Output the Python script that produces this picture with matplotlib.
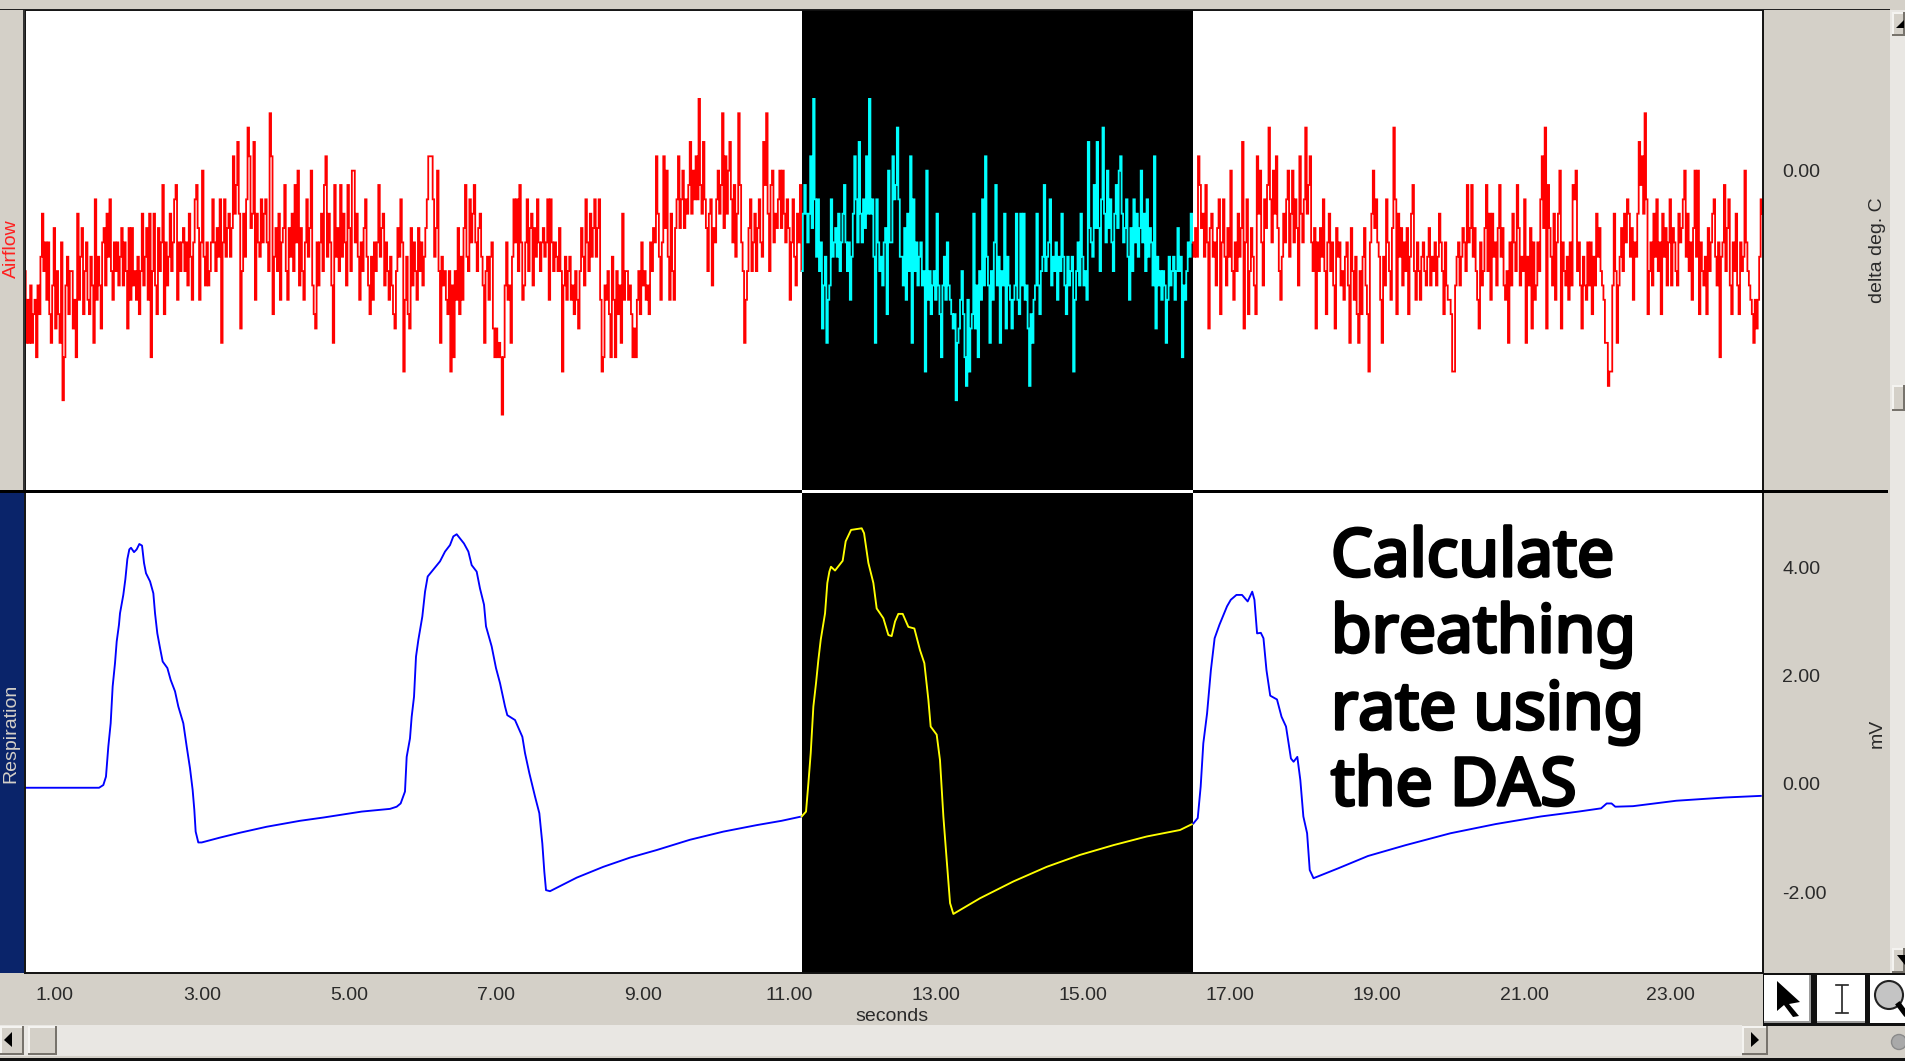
import numpy as np
import matplotlib
matplotlib.use("Agg")
import matplotlib.pyplot as plt
import matplotlib.patheffects as pe
from matplotlib.patches import Rectangle, Polygon, Circle

W, H = 1905, 1063
GRAY = "#d4d0c8"
NAVY = "#0a246a"
HATCH = "#e9e7e3"

# ---- data ----
sample_rate_hz = 50.0
time_start_s = 0.5916
time_end_s = 24.254
selection_s = (11.17, 16.49)
x_ticks = [1, 3, 5, 7, 9, 11, 13, 15, 17, 19, 21, 23]
airflow_ticks = [0.0]
resp_ticks = [4.0, 2.0, 0.0, -2.0]
airflow_unit = 0.01  # deg C per ADC count

airflow_counts = [
 -7,-12,-9,-12,-8,-12,-10,-9,-13,-8,  -10,-6,-3,-7,-5,-9,-5,-10,-12,-8,
 -4,-11,-7,-10,-12,-5,-16,-13,-8,-6,  -10,-7,-7,-11,-9,-13,-3,-9,-6,-4,
 -10,-7,-5,-9,-10,-6,-8,-12,-2,-9,  -6,-8,-11,-5,-4,-8,-3,-6,-2,-7,
 -9,-5,-7,-5,-8,-6,-4,-8,-5,-7,  -11,-4,-9,-4,-8,-7,-9,-6,-10,-7,
 -3,-8,-6,-4,-9,-3,-13,-7,-3,-8,  -10,-4,-7,-5,-1,-10,-5,-8,-6,-3,
 -7,-5,-2,-1,-9,-5,-7,-5,-4,-7,  -5,-8,-3,-6,-9,-5,-2,-1,-4,-9,
 -5,0,-6,-8,-5,-8,-7,-5,-2,-5,  -7,-4,-6,-2,-12,-5,-2,-6,-4,-3,
 -6,-4,1,-3,-1,2,-3,-11,-7,-3,  -6,-2,3,1,-4,-3,2,-9,-3,-5,
 -6,-2,-5,-3,-2,-5,-7,4,1,-10,  -6,-4,-7,-3,-9,-5,-4,-1,-7,-9,
 -4,-6,-3,-7,-1,-5,0,-8,-4,-7,  -9,-5,-2,-6,-4,0,-8,-10,-11,-5,
 -8,-5,-3,-7,-1,1,-6,-3,-5,-8,  -12,-1,-6,-4,-7,-1,-6,-3,-5,-8,
 -1,-4,-7,0,0,-5,-3,-6,-9,-5,  -7,-4,-2,-6,-8,-10,-6,-9,-5,-7,
 -5,-1,-6,-4,-3,-8,-5,-7,-9,-6,  -8,-10,-11,-7,-4,-6,-2,-5,-14,-9,
 -6,-10,-11,-4,-8,-5,-7,-9,-4,-7,  -5,-8,-6,-4,-2,1,1,1,-2,-6,
 -4,0,-7,-12,-6,-8,-7,-9,-10,-7,  -14,-8,-13,-7,-9,-4,-10,-6,-9,-4,
 -1,-6,-7,-2,-5,-3,-1,-5,-7,-4,  -3,-6,-8,-12,-7,-6,-9,-6,-5,-11,
 -13,-11,-13,-12,-13,-17,-13,-8,-5,-9,  -8,-12,-6,-2,-5,-2,-7,-1,-5,-9,
 -8,-5,-2,-7,-4,-3,-8,-4,-6,-2,  -5,-7,-5,-4,-6,-5,-2,-9,-2,-5,
 -7,-5,-6,-7,-4,-7,-14,-8,-6,-9,  -7,-6,-9,-8,-10,-7,-9,-11,-7,-4,
 -6,-8,-2,-5,-7,-3,-6,-4,-2,-6,  -4,-2,-9,-14,-13,-8,-9,-7,-10,-13,
 -6,-9,-13,-7,-10,-8,-12,-3,-9,-7,  -7,-9,-8,-10,-13,-11,-13,-9,-7,-10,
 -5,-8,-7,-9,-8,-10,-5,-7,-4,-5,  1,-3,-6,-9,-5,1,-4,0,-6,-9,
 -3,-7,-9,-4,-2,1,-4,-2,0,-4,  -2,-3,-1,2,-3,0,-2,1,-2,5,
 -1,-3,2,-2,-4,-7,-3,-2,-8,-4,  -5,-2,0,-3,-1,4,-4,1,-3,0,
 2,-2,-5,-1,-6,-3,4,-1,-5,-7,  -12,-9,-7,-4,-2,-7,-5,-3,-7,-4,
 -2,-5,-6,2,-1,4,-3,-7,-1,0,  -5,-3,-4,-2,0,-4,0,-3,-5,-2,
 -4,-9,-5,-2,-6,-8,-3,-5,-1,-7,
 -3,-1,-3,-5,-3,1,-4,5,-2,-6,  -2,-7,-5,-11,-8,-6,-12,-9,-8,-2,
 -6,-5,-4,-6,-3,-7,-5,-3,-1,-5,  -7,-5,-9,-6,-3,1,-2,-5,2,-3,
 -5,-2,-4,1,-3,5,-3,-2,-6,-12,  -2,-5,-7,-6,-8,-5,-4,-10,0,-5,
 -5,1,-2,-1,3,-2,-6,-6,-8,-4,  -9,-3,-7,1,-12,-2,-7,-5,-8,-6,
 -5,-8,-7,-14,0,-9,-7,-10,-8,-7,  -9,-3,-8,-10,-13,-8,-6,-9,-5,-8,
 -9,-10,-11,-10,-16,-12,-11,-9,-7,-10,  -13,-15,-9,-14,-11,-10,-3,-11,-8,-13,
 -7,-9,-2,-8,1,-6,-8,-12,-7,-9,  -5,-1,-8,-6,-12,-7,-8,-3,-11,-6,
 -8,-9,-11,-9,-8,-3,-9,-10,-3,-8,  -3,-9,-8,-11,-15,-10,-12,-9,-8,-3,
 -8,-10,-7,-6,-1,-7,-6,-5,-2,-8,  -6,-7,-5,-9,-6,-7,-3,-6,-8,-10,
 -6,-8,-7,-6,-14,-9,-7,-5,-8,-3,  -6,-8,-7,-9,2,-4,-5,-6,-1,-4,
 2,-4,-7,-2,3,-3,-5,0,-4,-2,  -5,-7,-3,-1,-4,0,1,-3,-5,-4,
 -2,-6,-9,-4,-7,-2,-5,-3,-6,-4,  0,-5,-3,-7,-2,-6,-4,-5,-8,1,
 -11,-6,-8,-7,-9,-7,-8,-12,-9,-6,  -8,-7,-6,-9,-7,-4,-7,-6,-13,-8,
 -9,-7,-5,-6,-3,-5,-6,-4,-6,1,
 -1,-4,-3,-6,-1,-5,-11,-4,-3,-6,  -5,-8,-4,-2,-10,-5,-2,-6,-8,-4,
 -6,0,-7,-9,-5,-7,-3,-6,-4,2,  -11,-5,-2,-10,-7,-4,-6,-8,-10,1,
 -3,0,-5,-8,-2,-4,-1,3,-2,-5,  0,-3,1,-4,-7,-9,-6,-3,-5,-2,
 0,-6,-3,0,-5,-2,-4,-8,1,-3,  -5,-2,3,-3,-1,1,-5,-7,-4,-11,
 -5,-7,-4,-6,-2,-7,-10,-5,-3,-7,  -5,-8,-11,-4,-6,-5,-8,-7,-9,-6,
 -5,-8,-12,-4,-7,-9,-6,-10,-12,-7,  -10,-6,-4,-8,-10,-14,-5,-3,0,-4,
 -2,-5,-6,-9,-12,-6,-8,-2,-5,-7,  -9,-4,3,-2,-10,-3,-6,-4,-8,-5,
 -7,-4,-10,-6,-3,-1,-7,-9,-5,-7,  -9,-6,-5,-7,-8,-6,-4,-8,-6,-7,
 -5,-8,-6,-3,-5,-7,-10,-5,-8,-9,  -9,-10,-14,-14,-8,-6,-5,-8,-6,-4,
 -5,-7,-1,-5,-4,-1,-6,-4,-7,-9,  -11,-5,-8,-7,-4,-1,-7,-3,-9,-3,
 -6,-5,-8,-4,-1,-6,-4,-8,-9,-7,  -12,-5,-8,-3,-5,-7,-1,-4,-8,-6,
 -7,-2,-12,-6,-8,-4,-11,-5,-9,-8,  -5,-7,-2,1,-4,3,-11,-1,-4,-6,
 -8,-3,-9,-5,-3,0,-11,-5,-7,-8,  -6,-9,-5,-8,-1,-2,0,-7,-5,-8,
 -11,-6,-8,-9,-5,-8,-5,-10,-6,-8,  -3,-6,-4,-7,-8,-9,-12,-12,-15,-14,
 -14,-8,-3,-7,-12,-8,-6,-4,-7,-3,  -5,-2,-3,-6,-4,-9,-5,-6,-3,2,
 -1,1,-3,4,-2,-10,-7,-5,-8,-3,  -6,-2,-7,-5,-10,-3,-6,-4,-8,-5,
 -2,-8,-4,-5,-7,-8,-3,-5,-4,-2,  0,-6,-3,-7,-5,-9,-4,0,-6,0,
 -10,-5,-7,-8,-6,-10,-4,-7,-5,-3,  -2,-6,-8,-5,-13,-6,-5,-1,-7,-4,
 -2,-8,-10,-5,-7,-3,-8,-10,-5,-7,  -6,0,-5,-7,-8,-9,-10,-12,-9,-11,
 -9,-6,-2,-3,
]

resp_t = [
 0.59,1.60,1.658,1.694,1.726,1.758,1.785,1.817,1.84,1.871,1.885,1.93,1.958,1.985,2.012,2.035,2.076,2.112,2.148,2.185,
 2.212,2.239,2.294,2.339,2.362,2.393,2.43,2.466,2.53,2.575,2.634,2.679,2.747,2.793,2.838,2.874,2.897,2.915,2.951,2.997,
 3.247,3.519,3.882,4.336,4.653,5.175,5.561,5.652,5.706,5.765,5.788,5.833,5.856,5.888,5.915,5.947,6.001,6.038,6.074,6.128,
 6.242,6.31,6.378,6.423,6.469,6.568,6.628,6.673,6.741,6.786,6.841,6.868,6.945,7.004,7.059,7.127,7.158,7.263,7.363,7.399,
 7.458,7.535,7.594,7.635,7.662,7.685,7.739,8.102,8.465,8.828,9.192,9.645,10.099,10.553,10.893,11.166,
 11.225,11.257,11.289,11.325,11.361,11.393,11.425,11.484,11.515,11.543,11.565,11.62,11.724,11.765,11.838,11.983,12.015,12.074,12.142,12.187,
 12.278,12.346,12.391,12.437,12.482,12.541,12.618,12.70,12.777,12.836,12.891,12.922,13.004,13.049,13.095,13.14,13.186,13.231,13.594,14.048,
 14.502,14.955,15.409,15.863,16.317,16.498,
 16.558,16.598,16.634,16.685,16.737,16.788,16.854,16.957,17.008,17.085,17.161,17.238,17.30,17.33,17.366,17.417,17.453,17.494,17.545,17.637,
 17.699,17.76,17.827,17.863,17.914,17.955,17.996,18.047,18.083,18.134,18.466,18.876,19.388,20.0,20.616,21.23,21.742,22.05,22.126,22.192,
 22.243,22.484,23.072,23.738,24.224,
]
resp_mv = [
 -0.07,-0.07,-0.02,0.135,0.69,1.12,1.80,2.23,2.63,2.94,3.15,3.49,3.78,4.15,4.33,4.36,4.28,4.33,4.43,4.40,
 4.08,3.89,3.74,3.52,3.15,2.78,2.51,2.26,2.14,1.92,1.71,1.43,1.12,0.69,0.29,-0.11,-0.48,-0.88,-1.08,-1.08,
 -0.99,-0.90,-0.79,-0.68,-0.62,-0.51,-0.46,-0.42,-0.36,-0.14,0.50,0.84,1.24,1.61,2.35,2.66,3.09,3.55,3.83,3.92,
 4.11,4.29,4.41,4.57,4.61,4.44,4.29,4.04,3.92,3.61,3.31,2.91,2.54,2.14,1.86,1.43,1.27,1.18,0.87,0.57,
 0.20,-0.23,-0.54,-1.10,-1.62,-1.96,-1.98,-1.73,-1.53,-1.36,-1.22,-1.03,-0.88,-0.76,-0.68,-0.60,
 -0.51,0.01,0.57,1.43,1.86,2.29,2.66,3.15,3.71,3.92,4.01,3.94,4.12,4.48,4.69,4.72,4.63,4.08,3.71,3.24,
 3.06,2.75,2.73,3.00,3.14,3.14,2.90,2.87,2.47,2.23,1.55,1.06,0.91,0.44,-0.60,-1.40,-2.20,-2.40,-2.11,-1.80,
 -1.53,-1.31,-1.13,-0.97,-0.85,-0.73,
 -0.63,-0.05,0.75,1.30,2.10,2.69,2.94,3.28,3.40,3.49,3.49,3.37,3.55,3.40,2.78,2.79,2.69,2.10,1.63,1.56,
 1.24,1.06,0.47,0.41,0.50,0.07,-0.60,-0.91,-1.59,-1.74,-1.56,-1.33,-1.13,-0.91,-0.74,-0.60,-0.51,-0.45,-0.36,-0.36,
 -0.42,-0.41,-0.31,-0.25,-0.22,
]
headline = ["Calculate", "breathing", "rate using", "the DAS"]

# ---- figure ----
plt.rcParams["font.family"] = ["Liberation Sans", "DejaVu Sans"]
fig = plt.figure(figsize=(W / 100, H / 100), dpi=100, facecolor=GRAY)


def panel(x0, y0, x1, y1):
    return fig.add_axes([x0 / W, 1 - y1 / H, (x1 - x0) / W, (y1 - y0) / H])


ax_air = panel(25, 9.5, 1763, 490.5)
ax_res = panel(25, 492, 1763, 973)
TXT = "#2a2a2a"
for ax in (ax_air, ax_res):
    ax.set_xlim(time_start_s, time_end_s)
    ax.axvspan(*selection_s, color="black", lw=0, zorder=1)
    ax.yaxis.tick_right()
    ax.tick_params(length=0, labelsize=14, labelcolor=TXT, pad=14)
    for s in ax.spines.values():
        s.set_linewidth(1.4)
        s.set_color("#111111")
    ax.yaxis.set_label_position("right")

air_t = time_start_s + np.arange(len(airflow_counts)) / sample_rate_hz
air_v = np.array(airflow_counts) * airflow_unit
res_t = np.array(resp_t)
res_v = np.array(resp_mv)
in_sel = (air_t >= selection_s[0] - 0.01) & (air_t <= selection_s[1] + 0.01)
i0, i1 = np.where(in_sel)[0][[0, -1]]
for a, b, c in [(None, i0 + 1, "#ff0000"), (i0, i1 + 1, "#00ffff"), (i1, None, "#ff0000")]:
    line, = ax_air.plot(air_t[a:b], air_v[a:b], color=c, lw=1.3, drawstyle="steps-mid",
                        solid_joinstyle="miter", zorder=2)
    line.set_snap(False)
ax_air.set_ylim(-0.2229, 0.1123)
ax_air.set_yticks(airflow_ticks)
ax_air.set_yticklabels([f"{v:.2f}" for v in airflow_ticks])
ax_air.set_xticks([])
ax_air.set_ylabel("delta deg. C", fontsize=14, color=TXT, rotation=90)
ax_air.yaxis.set_label_coords((1869 - 25) / 1738, (490.5 - 250) / 481)

j0 = np.where(res_t >= 11.16)[0][0]
j1 = np.where(res_t <= 16.50)[0][-1]
ax_res.plot(res_t[:j0 + 1], res_v[:j0 + 1], color="#0000ff", lw=1.35, zorder=2)
ax_res.plot(res_t[j0:j1 + 1], res_v[j0:j1 + 1], color="#ffff00", lw=1.35, zorder=2)
ax_res.plot(res_t[j1:], res_v[j1:], color="#0000ff", lw=1.35, zorder=2)
ax_res.set_ylim(-3.49, 5.39)
ax_res.set_yticks(resp_ticks)
ax_res.set_yticklabels([f"{v:.2f}" for v in resp_ticks])
ax_res.set_xticks(x_ticks)
ax_res.set_xticklabels([f"{v:.2f}" for v in x_ticks])
ax_res.tick_params(axis="x", pad=10)
ax_res.set_xlabel("seconds", fontsize=14, color=TXT)
ax_res.xaxis.set_label_coords((892 - 25) / 1738, -(1008 - 973) / 481)
ax_res.set_ylabel("mV", fontsize=14, color=TXT, rotation=90)
ax_res.yaxis.set_label_coords((1869 - 25) / 1738, (973 - 733) / 481)

# ---- window chrome in pixel coordinates ----
ui = fig.add_axes([0, 0, 1, 1], zorder=10)
ui.set_xlim(0, W)
ui.set_ylim(H, 0)
ui.axis("off")
ui.patch.set_alpha(0)


def rect(x0, y0, x1, y1, c, z=1):
    ui.add_patch(Rectangle((x0, y0), x1 - x0, y1 - y0, facecolor=c, edgecolor="none", zorder=z))


def button(x0, y0, x1, y1, face=GRAY):
    rect(x0, y0, x1, y1, face)
    rect(x0, y0, x1, y0 + 1.5, "#f4f3f0", 2)
    rect(x0, y0, x0 + 1.5, y1, "#f4f3f0", 2)
    rect(x0, y1 - 2, x1, y1, "#77736c", 2)
    rect(x1 - 2, y0, x1, y1, "#77736c", 2)


# left channel strips
rect(0, 0, 24, 490, GRAY)
rect(0, 493, 24, 973, NAVY)
rect(23, 9, 25, 491, "#333333")
ui.text(11, 249, "Airflow", color="#ff2020", rotation=90, fontsize=14, ha="center", va="center")
ui.text(11, 733, "Respiration", color="#d4d0c8", rotation=90, fontsize=14, ha="center", va="center")

# divider between panels
rect(0, 489.5, 1888, 493, "#000000", 3)
sx0 = 25 + (selection_s[0] - time_start_s) / (time_end_s - time_start_s) * 1738
sx1 = 25 + (selection_s[1] - time_start_s) / (time_end_s - time_start_s) * 1738
rect(sx0, 490, sx1, 492.5, "#ffffff", 4)
rect(0, 8.5, 1890, 10, "#222222", 3)

# vertical scroll bar
rect(1890, 10, W, 973, HATCH)
button(1892, 12, W, 36)
ui.add_patch(Polygon([[1896, 28], [1904, 28], [1904, 20]], closed=True, fc="black", ec="none", zorder=3))
button(1892, 385, W, 411)
button(1892, 948, W, 973)
ui.add_patch(Polygon([[1897, 955], [1905, 955], [1905, 965]], closed=True, fc="black", ec="none", zorder=3))

# horizontal scroll bar
rect(0, 1025, 1742, 1056, HATCH)
button(0, 1026, 24, 1055)
ui.add_patch(Polygon([[12, 1032], [12, 1047], [4, 1040]], closed=True, fc="black", ec="none", zorder=3))
button(28, 1026, 57, 1055)
button(1742, 1026, 1768, 1055)
ui.add_patch(Polygon([[1751, 1032], [1751, 1047], [1759, 1040]], closed=True, fc="black", ec="none", zorder=3))
rect(0, 1058, W, 1060.5, "#111111")
rect(0, 1060.5, W, H, "#ffffff")
ui.add_patch(Circle((1899, 1042), 7.5, fc="#a9a9a9", ec="#8a8a8a", zorder=2))

# toolbar buttons
rect(1763, 973, W, 1026, "#111111")
rect(1764, 975, 1811, 1023, "#ffffff", 2)
rect(1817, 975, 1865, 1023, "#ffffff", 2)
rect(1870, 975, W, 1023, "#ffffff", 2)
rect(1764, 1021, 1811, 1023, "#9c9c9c", 3)
rect(1809, 975, 1811, 1023, "#9c9c9c", 3)
rect(1817, 1021, 1865, 1023, "#9c9c9c", 3)
ui.add_patch(Polygon([[1777, 981], [1800, 1002], [1789, 1004], [1799, 1016], [1793, 1017],
                      [1784, 1005], [1777, 1011]], closed=True, fc="black", ec="none", zorder=4))
for xs, ys in [([1842, 1842], [986, 1012]), ([1836, 1848], [985, 985]), ([1836, 1848], [1013, 1013])]:
    ui.plot(xs, ys, color="#222222", lw=1.2, zorder=4)
ui.add_patch(Circle((1889, 995), 14, fc="#c4c4c4", ec="#222222", lw=1.5, zorder=4))
ui.plot([1899, W], [1005, 1013], color="black", lw=4, zorder=4)

# headline (the installed Noto Sans has no bold face, so it is thickened with a stroke)
for line_text, base in zip(headline, [576, 652, 729, 805]):
    ui.text(1331, base, line_text, fontsize=47.5, family="Noto Sans", color="black",
            ha="left", va="baseline", zorder=6,
            path_effects=[pe.withStroke(linewidth=2.4, foreground="black")])

fig.savefig("out.png", dpi=100, facecolor=GRAY)
